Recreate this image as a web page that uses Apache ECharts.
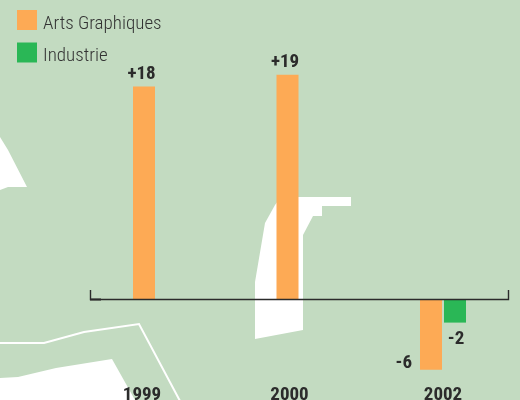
<!DOCTYPE html>
<html><head><meta charset="utf-8">
<style>html,body{margin:0;padding:0;background:#c3dbc1}#c{width:520px;height:400px}</style>
<script src="https://cdn.jsdelivr.net/npm/echarts@6/dist/echarts.min.js"></script>
</head><body><div id="c"></div>
<script>
const categories = ['1999', '2000', '2002'];
const artsGraphiques = [18, 19, -6];
const industrie = [null, null, -2];
const seriesNames = ['Arts Graphiques', 'Industrie'];
const FONT = '"Roboto Condensed",Lato,sans-serif';
const TEXT = '#2b2b2b';
const labelShift = {'1999': 28, '2000': 20};
const chart = echarts.init(document.getElementById('c'), null, {renderer: 'canvas'});
const sign = v => (v > 0 ? '+' : '') + v;
const base = {fontFamily: FONT, fontSize: 19, fontWeight: 'bold', color: TEXT};
const bg = (points) => ({type: 'polygon', silent: true, z: -10, shape: {points}, style: {fill: '#fff'}});
chart.setOption({
  backgroundColor: '#c3dbc1',
  animation: false,
  legend: {
    orient: 'vertical', left: 17, top: 10, padding: 0, itemWidth: 20, itemHeight: 20, itemGap: 9,
    icon: 'rect', selectedMode: false,
    formatter: n => '{t|' + n + '}',
    textStyle: {
      fontFamily: FONT, fontSize: 19, color: '#333',
      rich: {t: {fontFamily: FONT, fontSize: 19, fontWeight: 300, color: '#333', padding: [8, 0, 0, 1]}}
    }
  },
  grid: {left: 84.25, width: 430.5, top: 63, height: 318.6, outerBoundsMode: 'none'},
  xAxis: {
    type: 'category', data: categories,
    axisLine: {show: false, onZero: false}, axisTick: {show: false},
    axisLabel: {
      margin: 4, interval: 0,
      formatter: v => '{y' + v + '|' + v + '}',
      rich: {
        y1999: {...base, padding: [0, labelShift['1999'], 0, 0]},
        y2000: {...base, padding: [0, labelShift['2000'], 0, 0]},
        y2002: {...base}
      }
    }
  },
  yAxis: {type: 'value', min: -7, max: 20, show: false, splitLine: {show: false}},
  series: [
    {
      name: seriesNames[0], type: 'bar', barWidth: 22, barGap: '9.09%',
      itemStyle: {color: '#fdaa55'},
      data: artsGraphiques.map(v => v < 0
        ? {value: v, label: {position: 'left', distance: 8, offset: [0, 29]}}
        : v),
      label: {show: true, position: 'top', distance: 3, offset: [-2.5, 0], formatter: p => sign(p.value), ...base}
    },
    {
      name: seriesNames[1], type: 'bar', barWidth: 22,
      itemStyle: {color: '#2ab756'},
      data: industrie,
      label: {show: true, position: 'bottom', distance: 7, offset: [1, 0], formatter: p => sign(p.value), ...base}
    }
  ],
  graphic: [
    bg([[0,137],[8,150],[27,187],[8,187],[0,190]]),
    bg([[351,197],[351,206],[322,206],[322,216],[313,216],[303,235],[303,330],[255,339],[255,282],[265,223],[275,205],[281,197]]),
    bg([[0,378],[18,377],[56,368],[112,359],[135,400],[0,400]]),
    {type: 'polyline', silent: true, z: -10,
     shape: {points: [[0,343],[44,343],[84,332],[139,324],[180,401]]},
     style: {fill: null, stroke: '#fff', lineWidth: 2}},
    {id: 'axisBracket', type: 'polyline', silent: true, z: 50, shape: {points: [[0,0],[0,0]]},
     style: {fill: null, stroke: '#2b2b2b', lineWidth: 1.4}},
    {id: 'axisFoot', type: 'polyline', silent: true, z: 50, shape: {points: [[0,0],[0,0]]},
     style: {fill: null, stroke: '#2b2b2b', lineWidth: 2}}
  ]
});
const y0 = Math.round(chart.convertToPixel({yAxisIndex: 0}, 0));
chart.setOption({graphic: [
  {id: 'axisBracket', shape: {points: [[90.5, y0 - 9], [90.5, y0 + 0.5], [508.5, y0 + 0.5], [508.5, y0 - 9]]}},
  {id: 'axisFoot', shape: {points: [[90, y0 + 0.5], [101, y0 + 0.5]]}}
]});
</script></body></html>
